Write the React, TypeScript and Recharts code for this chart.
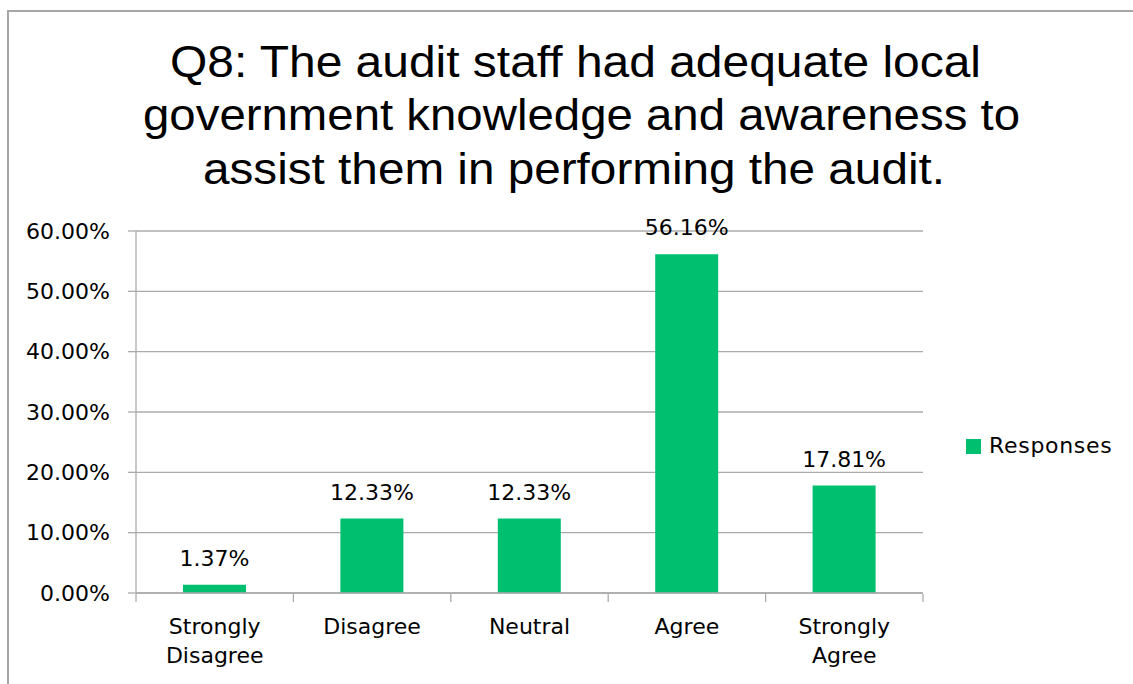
import React from 'react';
import { BarChart, Bar, XAxis, YAxis, CartesianGrid, LabelList, Legend } from 'recharts';

const TITLE_LINES = [
  'Q8: The audit staff had adequate local',
  'government knowledge and awareness to',
  'assist them in performing the audit.',
];
const CATEGORIES = ['Strongly Disagree', 'Disagree', 'Neutral', 'Agree', 'Strongly Agree'];
const RESPONSES = [1.37, 12.33, 12.33, 56.16, 17.81];
const Y_TICKS = [0, 10, 20, 30, 40, 50, 60];
const EDGE_TICKS = [0, 1, 2, 3, 4, 5];
const SERIES_NAME = 'Responses';

const data = CATEGORIES.map((c, i) => ({ category: c, value: RESPONSES[i], slot: i + 0.5 }));

const W = 1133;
const H = 684;
const GREEN = '#00BF6F';
const LINE = '#ababab';
const FONT = '"DejaVu Sans", sans-serif';

// title layout (left edge, baseline, width)
const TITLE_POS = [
  { x: 170, y: 77, w: 811 },
  { x: 143, y: 130, w: 877 },
  { x: 203, y: 184, w: 742 },
];

const pct = (v: number) => `${Number(v).toFixed(2)}%`;

const EmptyTick = () => <g />;

const CategoryTick = (props: any) => {
  const { x, y, payload } = props;
  const words = String(payload.value).split(' ');
  return (
    <text x={x} y={y} textAnchor="middle" fill="#000" fontSize={22} fontFamily={FONT}>
      {words.map((w, i) => (
        <tspan key={i} x={x} dy={i === 0 ? 41 : 29}>
          {w}
        </tspan>
      ))}
    </text>
  );
};

const LegendContent = (props: any) => {
  const payload = props.payload || [];
  return (
    <div>
      {payload.map((e: any) => (
        <div
          key={e.value}
          style={{ display: 'flex', alignItems: 'center', fontFamily: FONT, fontSize: 22, lineHeight: '26px', color: '#000', letterSpacing: '0.7px' }}
        >
          <span style={{ display: 'inline-block', width: 15, height: 15, background: e.color, marginRight: 8 }} />
          <span>{e.value}</span>
        </div>
      ))}
    </div>
  );
};

export default function App() {
  return (
    <div
      style={{
        position: 'absolute',
        left: 0,
        top: 0,
        width: W,
        height: H,
        overflow: 'hidden',
        background: '#fff',
      }}
    >
      <div
        style={{
          position: 'absolute',
          left: 7,
          top: 10,
          width: 1300,
          height: 900,
          border: '2px solid #a6a6a6',
          boxSizing: 'border-box',
        }}
      />
      <div style={{ position: 'absolute', left: 0, top: 0 }}>
        <BarChart
          width={W}
          height={H}
          data={data}
          margin={{ top: 231, right: 210, bottom: 89, left: 0 }}
          barSize={63}
        >
          <CartesianGrid vertical={false} stroke={LINE} strokeWidth={1.3} />
          <XAxis
            xAxisId="edge"
            dataKey="slot"
            type="number"
            scale="linear"
            domain={[0, 5]}
            ticks={EDGE_TICKS}
            allowDataOverflow
            padding={{ left: 0, right: 0 }}
            height={1}
            axisLine={false}
            tick={<EmptyTick />}
            tickSize={8}
            tickLine={{ stroke: LINE, strokeWidth: 1.3 }}
          />
          <XAxis
            dataKey="category"
            height={1}
            interval={0}
            tickSize={0}
            tickMargin={0}
            tickLine={false}
            axisLine={{ stroke: LINE, strokeWidth: 1.3 }}
            tick={<CategoryTick />}
          />
          <YAxis
            width={136}
            domain={[0, 60]}
            ticks={Y_TICKS}
            tickFormatter={pct}
            tickSize={8}
            tickMargin={18}
            axisLine={{ stroke: LINE, strokeWidth: 1.3 }}
            tickLine={{ stroke: LINE, strokeWidth: 1.3 }}
            tick={{ fill: '#000', fontSize: 22, fontFamily: FONT }}
          />
          <Legend
            layout="horizontal"
            align="center"
            verticalAlign="middle"
            content={<LegendContent />}
            wrapperStyle={{ left: 966, top: 433, width: 'auto', height: 'auto' }}
          />
          <Bar dataKey="value" name={SERIES_NAME} fill={GREEN} isAnimationActive={false}>
            <LabelList
              dataKey="value"
              position="top"
              offset={19}
              formatter={(v: any) => pct(v)}
              fill="#000"
              fontSize={22}
              fontFamily={FONT}
            />
          </Bar>
        </BarChart>
      </div>
      <svg
        width={W}
        height={H}
        style={{ position: 'absolute', left: 0, top: 0, pointerEvents: 'none' }}
      >
        {TITLE_LINES.map((t, i) => (
          <text
            key={i}
            x={TITLE_POS[i].x}
            y={TITLE_POS[i].y}
            textLength={TITLE_POS[i].w}
            lengthAdjust="spacingAndGlyphs"
            fontFamily='"Liberation Sans", Arial, sans-serif'
            fontSize={45}
            fill="#000"
          >
            {t}
          </text>
        ))}
      </svg>
    </div>
  );
}
